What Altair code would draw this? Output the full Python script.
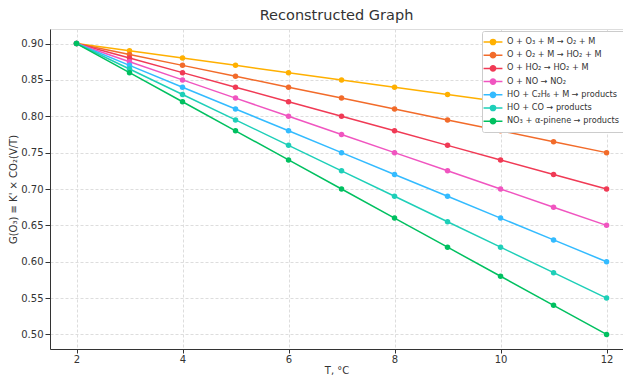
import altair as alt
import pandas as pd

T = [2, 3, 4, 5, 6, 7, 8, 9, 10, 11, 12]
names = [
    "O + O₃ + M → O₂ + M",
    "O + O₂ + M → HO₂ + M",
    "O + HO₂ → HO₂ + M",
    "O + NO → NO₂",
    "HO + C₂H₆ + M → products",
    "HO + CO → products",
    "NO₃ + α-pinene → products",
]
s1 = [0.90, 0.89, 0.88, 0.87, 0.86, 0.85, 0.84, 0.83, 0.82, 0.81, 0.80]
s2 = [0.90, 0.885, 0.87, 0.855, 0.84, 0.825, 0.81, 0.795, 0.78, 0.765, 0.75]
s3 = [0.90, 0.88, 0.86, 0.84, 0.82, 0.80, 0.78, 0.76, 0.74, 0.72, 0.70]
s4 = [0.90, 0.875, 0.85, 0.825, 0.80, 0.775, 0.75, 0.725, 0.70, 0.675, 0.65]
s5 = [0.90, 0.87, 0.84, 0.81, 0.78, 0.75, 0.72, 0.69, 0.66, 0.63, 0.60]
s6 = [0.90, 0.865, 0.83, 0.795, 0.76, 0.725, 0.69, 0.655, 0.62, 0.585, 0.55]
s7 = [0.90, 0.86, 0.82, 0.78, 0.74, 0.70, 0.66, 0.62, 0.58, 0.54, 0.50]
series = [s1, s2, s3, s4, s5, s6, s7]
colors = ["#FFB000", "#F26B2A", "#F03A55", "#F055C0", "#33BBFF", "#1ECFB8", "#00C060"]

rows = []
for n, vals in zip(names, series):
    for t, v in zip(T, vals):
        rows.append({"T": t, "G": v, "reaction": n})
df = pd.DataFrame(rows)

font = "DejaVu Sans"
scale = alt.Scale(domain=names, range=colors)
color = alt.Color(
    "reaction:N",
    sort=names,
    scale=scale,
    legend=alt.Legend(
        title=None,
        orient="none",
        legendX=432,
        legendY=2,
        labelFont=font,
        labelFontSize=8.2,
        labelColor="#333333",
        symbolType="M-1.8,0L1.8,0M-0.5,0A0.5,0.5 0 1,1 0.5,0A0.5,0.5 0 1,1 -0.5,0",
        symbolSize=110,
        symbolStrokeWidth=1.5,
        labelOffset=8,
        rowPadding=1.2,
        padding=5,
        offset=0,
        strokeColor="#cccccc",
        fillColor="white",
        cornerRadius=2,
    ),
)

x = alt.X(
    "T:Q",
    title="T, °C",
    scale=alt.Scale(domain=[1.5, 12.31], nice=False, zero=False),
    axis=alt.Axis(values=[2, 4, 6, 8, 10, 12], format="d", labelFont=font, titleFont=font,
                  labelFontSize=10, titleFontSize=10, titleFontWeight="normal",
                  labelColor="#333333", titleColor="#333333", tickColor="#333333",
                  domainColor="#333333", gridDash=[3, 2], gridColor="#dddddd",
                  tickSize=4, labelPadding=1, titlePadding=1),
)
y = alt.Y(
    "G:Q",
    title="G(O₃) ≡ K' × CO₂(V/T)",
    scale=alt.Scale(domain=[0.48, 0.92], nice=False, zero=False),
    axis=alt.Axis(values=[0.50, 0.55, 0.60, 0.65, 0.70, 0.75, 0.80, 0.85, 0.90], format=".2f",
                  labelFont=font, titleFont=font, labelFontSize=10, titleFontSize=10,
                  titleFontWeight="normal", labelColor="#333333", titleColor="#333333",
                  tickColor="#333333", domainColor="#333333", gridDash=[3, 2],
                  gridColor="#dddddd", titlePadding=2),
)

base = alt.Chart(df)
lines = base.mark_line(strokeWidth=1.5).encode(x=x, y=y, color=color)
points = base.mark_circle(size=30, opacity=1).encode(
    x=x, y=y, color=alt.Color("reaction:N", sort=names, scale=scale, legend=None))

chart = (
    alt.layer(lines, points)
    .properties(
        width=573,
        height=320,
        title=alt.TitleParams("Reconstructed Graph", font=font, fontSize=14.5, fontWeight="normal",
                              color="#333333", offset=6),
        autosize=alt.AutoSizeParams(type="none"),
        padding={"left": 42, "top": 21, "right": 0, "bottom": 30},
    )
    .configure_view(strokeWidth=0)
    .configure(background="white")
)

chart.save("out.html", embed_options={"renderer": "svg", "actions": False})
